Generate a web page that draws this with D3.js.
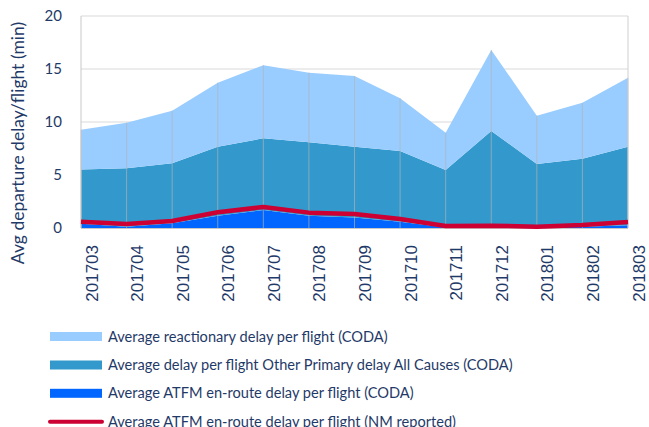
<!DOCTYPE html>
<html>
<head>
<meta charset="utf-8">
<script src="https://cdn.jsdelivr.net/npm/d3@7"></script>
<style>
  html, body { margin: 0; padding: 0; background: #ffffff; }
  svg { display: block; }
</style>
</head>
<body>
<svg id="chart" width="649" height="427"></svg>
<script>
// Monthly categories
const months = ["201703","201704","201705","201706","201707","201708","201709",
                "201710","201711","201712","201801","201802","201803"];

// Stacked components (minutes per flight)
const atfmCoda      = [0.40, 0.12, 0.44, 1.16, 1.70, 1.16, 1.00, 0.60, 0.05, 0.08, 0.04, 0.12, 0.25];
const otherPrimary  = [5.13, 5.51, 5.66, 6.51, 6.76, 6.92, 6.67, 6.66, 5.42, 9.07, 6.00, 6.42, 7.42];
const reactionary   = [3.74, 4.30, 4.97, 6.03, 6.89, 6.57, 6.67, 4.98, 3.52, 7.65, 4.56, 5.28, 6.51];

// ATFM en-route delay as reported by NM
const nmReported    = [0.60, 0.38, 0.66, 1.48, 1.98, 1.45, 1.32, 0.85, 0.19, 0.22, 0.12, 0.28, 0.57];

const yTicks = [0, 5, 10, 15, 20];

const legendLabels = [
  "Average reactionary delay per flight (CODA)",
  "Average delay per flight Other Primary delay All Causes (CODA)",
  "Average ATFM en-route delay per flight (CODA)",
  "Average ATFM en-route delay per flight (NM reported)"
];

const colors = {
  reactionary: "#99ccff",
  other: "#3399cc",
  atfm: "#0066ff",
  nm: "#cc0033",
  text: "#1f3a68",
  grid: "#d9d9d9"
};

const svg = d3.select("#chart");
const margin = { left: 81, right: 21, top: 16, bottom: 199 };
const W = 649, H = 427;
const plotW = W - margin.left - margin.right;
const plotH = H - margin.top - margin.bottom;

const rows = months.map((m, i) => ({
  month: m,
  atfm: atfmCoda[i],
  other: otherPrimary[i],
  reactionary: reactionary[i]
}));

const x = d3.scalePoint().domain(months).range([0, plotW]);
const y = d3.scaleLinear().domain([0, 20]).range([plotH, 0]);

const g = svg.append("g").attr("transform", `translate(${margin.left},${margin.top})`);

// Horizontal gridlines
g.append("g")
  .selectAll("line")
  .data(yTicks.filter(t => t > 0))
  .join("line")
  .attr("x1", 0).attr("x2", plotW)
  .attr("y1", d => y(d)).attr("y2", d => y(d))
  .attr("stroke", colors.grid).attr("stroke-width", 1);

// Stacked areas
const keys = ["atfm", "other", "reactionary"];
const fills = { atfm: colors.atfm, other: colors.other, reactionary: colors.reactionary };
const series = d3.stack().keys(keys)(rows);

const area = d3.area()
  .x(d => x(d.data.month))
  .y0(d => y(d[0]))
  .y1(d => y(d[1]));

g.append("g")
  .selectAll("path")
  .data(series)
  .join("path")
  .attr("d", area)
  .attr("fill", d => fills[d.key]);

// Vertical drop lines through the stack
const topSeries = series[series.length - 1];
g.append("g")
  .selectAll("line")
  .data(topSeries)
  .join("line")
  .attr("x1", d => x(d.data.month)).attr("x2", d => x(d.data.month))
  .attr("y1", d => y(d[1])).attr("y2", y(0))
  .attr("stroke", "#b4b4b4").attr("stroke-opacity", 0.65).attr("stroke-width", 1);

// Plot frame
g.append("line").attr("x1", 0).attr("x2", 0).attr("y1", 0).attr("y2", plotH)
  .attr("stroke", "#c8c8c8");
g.append("line").attr("x1", plotW).attr("x2", plotW).attr("y1", 0).attr("y2", plotH)
  .attr("stroke", "#d0d0d0");
g.append("line").attr("x1", 0).attr("x2", plotW).attr("y1", plotH + 0.5).attr("y2", plotH + 0.5)
  .attr("stroke", "#c8c8c8");

// NM reported line
const line = d3.line()
  .x((d, i) => x(months[i]))
  .y(d => y(d));
g.append("path")
  .datum(nmReported)
  .attr("d", line)
  .attr("fill", "none")
  .attr("stroke", colors.nm)
  .attr("stroke-width", 4.5)
  .attr("stroke-linejoin", "round");

// Y axis
const yAxis = d3.axisLeft(y).tickValues(yTicks).tickSize(0).tickPadding(19);
const yg = g.append("g").call(yAxis);
yg.select(".domain").remove();
yg.selectAll("text")
  .attr("fill", colors.text)
  .style("font-family", "Lato, 'Open Sans', sans-serif")
  .style("font-size", "15px");

// X axis (rotated labels)
const xAxis = d3.axisBottom(x).tickSize(0).tickPadding(0);
const xg = g.append("g").attr("transform", `translate(0,${plotH})`).call(xAxis);
xg.select(".domain").remove();
xg.selectAll("text")
  .attr("fill", colors.text)
  .style("font-family", "'Liberation Sans', Arial, sans-serif")
  .style("font-size", "17px")
  .attr("text-anchor", "end")
  .attr("dy", null)
  .attr("y", 0)
  .attr("transform", "translate(16,17) rotate(-90)");

// Y axis title
svg.append("text")
  .attr("transform", `translate(24,${margin.top + 127}) rotate(-90)`)
  .attr("text-anchor", "middle")
  .attr("fill", colors.text)
  .style("font-family", "Lato, 'Open Sans', sans-serif")
  .style("font-size", "17.5px")
  .text("Avg departure delay/flight (min)");

// Legend
const legendY = [336.5, 365, 393.3, 421.7];
const legendSwatch = [colors.reactionary, colors.other, colors.atfm];
const lg = svg.append("g");
legendLabels.forEach((label, i) => {
  if (i < 3) {
    lg.append("rect")
      .attr("x", 50).attr("y", legendY[i] - 4.5)
      .attr("width", 52).attr("height", 9)
      .attr("fill", legendSwatch[i]);
  } else {
    lg.append("line")
      .attr("x1", 50).attr("x2", 102)
      .attr("y1", legendY[i]).attr("y2", legendY[i])
      .attr("stroke", colors.nm).attr("stroke-width", 4)
      .attr("stroke-linecap", "round");
  }
  lg.append("text")
    .attr("x", 108).attr("y", legendY[i])
    .attr("dy", "0.35em")
    .attr("fill", colors.text)
    .style("font-family", "Lato, 'Open Sans', sans-serif")
    .style("font-size", "14.6px")
    .text(label);
});
</script>
</body>
</html>
